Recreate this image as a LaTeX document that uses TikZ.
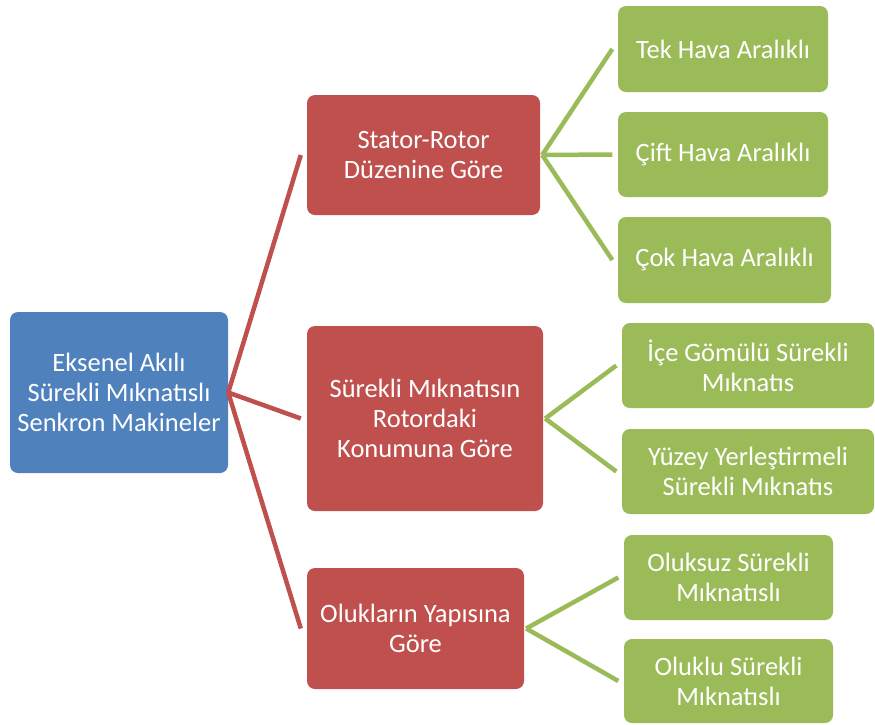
\documentclass[tikz,border=0pt]{standalone}
\usepackage{fontspec}
\setmainfont{Carlito}
\usetikzlibrary{positioning}
\definecolor{rootblue}{HTML}{4F81BD}
\definecolor{catred}{HTML}{C0504D}
\definecolor{leafgreen}{HTML}{9BBB59}

\begin{document}
\begin{tikzpicture}[
    x=1pt, y=-1pt,
    every node/.style={font=\fontsize{26.5}{30}\selectfont, text=white, align=center},
    box/.style={rectangle, rounded corners=8pt, inner sep=0pt},
    rootbox/.style={box, fill=rootblue},
    catbox/.style={box, fill=catred},
    leafbox/.style={box, fill=leafgreen},
    redlink/.style={catred, line width=4.5pt},
    greenlink/.style={leafgreen, line width=4.5pt},
  ]
  \useasboundingbox (0,0) rectangle (875,724);

  % kok
  \node[rootbox, minimum width=218pt, minimum height=161pt] (root) at (119,392.5)
    {Eksenel Akılı\\Sürekli Mıknatıslı\\Senkron Makineler};

  % siniflandirma
  \node[catbox, minimum width=233pt, minimum height=120pt] (s1) at (423.5,155)
    {Stator-Rotor\\Düzenine Göre};
  \node[catbox, minimum width=236pt, minimum height=185pt] (s2) at (425,418.5)
    {Sürekli Mıknatısın\\Rotordaki\\Konumuna Göre};
  \node[catbox, minimum width=217pt, minimum height=121pt] (s3) at (415.5,628.5)
    {Olukların Yapısına\\Göre};

  % alt turler
  \node[leafbox, minimum width=210pt, minimum height=86pt] (t1) at (723,49)
    {Tek Hava Aralıklı};
  \node[leafbox, minimum width=210pt, minimum height=85pt] (t2) at (723,154.5)
    {Çift Hava Aralıklı};
  \node[leafbox, minimum width=213pt, minimum height=86pt] (t3) at (724.5,260)
    {Çok Hava Aralıklı};
  \node[leafbox, minimum width=252pt, minimum height=85pt] (t4) at (748,365.5)
    {İçe Gömülü Sürekli\\Mıknatıs};
  \node[leafbox, minimum width=252pt, minimum height=85pt] (t5) at (748,471.5)
    {Yüzey Yerleştirmeli\\Sürekli Mıknatıs};
  \node[leafbox, minimum width=209pt, minimum height=85pt] (t6) at (728.5,577.5)
    {Oluksuz Sürekli\\Mıknatıslı};
  \node[leafbox, minimum width=209pt, minimum height=84pt] (t7) at (728.5,681)
    {Oluklu Sürekli\\Mıknatıslı};

  % baglantilar
  \foreach \c in {s1,s2,s3} {
    \coordinate (\c-in) at ([xshift=-6pt]\c.west);
    \draw[redlink] (root.east) -- (\c-in);
  }
  \foreach \p/\c in {s1/t1, s1/t2, s1/t3, s2/t4, s2/t5, s3/t6, s3/t7} {
    \coordinate (\c-in) at ([xshift=-5.5pt]\c.west);
    \draw[greenlink] ([xshift=2pt]\p.east) -- (\c-in);
  }
\end{tikzpicture}
\end{document}
